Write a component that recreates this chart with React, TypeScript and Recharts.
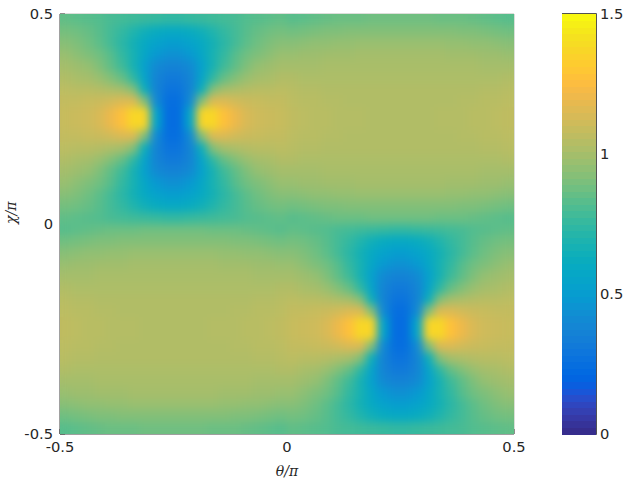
import { ScatterChart, Scatter, XAxis, YAxis, ReferenceArea, ReferenceLine } from "recharts";

// heat values in hundredths, top row (chi = 0.5) first, left column (theta = -0.5) first
const heatRows = [
  [85,84,83,82,80,79,78,77,76,75,75,76,77,78,79,80,82,83,84,85,83,84,85,86,87,87,87,88,88,88,88,88,88,87,87,87,86,85,84,83],
  [89,88,86,83,79,75,70,65,61,59,59,61,65,70,75,79,83,86,88,89,88,89,90,91,91,92,92,92,92,92,92,92,92,92,92,91,91,90,89,88],
  [93,91,88,84,79,73,66,59,54,51,51,54,59,66,73,79,84,88,91,93,93,94,95,95,96,96,97,97,97,97,97,97,97,97,96,96,95,95,94,93],
  [97,94,91,88,83,75,67,57,48,44,44,48,57,67,75,83,88,91,94,97,97,98,98,99,99,99,100,100,100,100,100,100,100,100,99,99,99,98,98,97],
  [100,98,96,91,85,78,67,53,41,37,37,41,53,67,78,85,91,96,98,100,100,100,100,101,101,101,101,101,101,101,101,101,101,101,101,101,101,100,100,100],
  [103,101,100,97,92,86,74,55,38,32,32,38,55,74,86,92,97,100,101,103,103,102,102,102,102,102,102,102,102,102,102,102,102,102,102,102,102,102,102,103],
  [106,105,105,104,102,100,92,64,38,28,28,38,64,92,100,102,104,105,105,106,105,104,104,103,103,103,103,103,103,103,103,103,103,103,103,103,103,104,104,105],
  [108,108,109,110,112,115,115,92,41,25,25,41,92,115,115,112,110,109,108,108,106,105,105,104,104,103,103,103,103,103,103,103,103,103,103,104,104,105,105,106],
  [109,110,111,114,120,127,138,136,55,24,24,55,136,138,127,120,114,111,110,109,107,106,105,105,104,104,104,103,103,103,103,103,103,104,104,104,105,105,106,107],
  [109,110,111,114,120,127,138,136,55,24,24,55,136,138,127,120,114,111,110,109,107,106,105,105,104,104,104,103,103,103,103,103,103,104,104,104,105,105,106,107],
  [108,108,109,110,112,115,115,92,41,25,25,41,92,115,115,112,110,109,108,108,106,105,105,104,104,103,103,103,103,103,103,103,103,103,103,104,104,105,105,106],
  [106,105,105,104,102,100,92,64,38,28,28,38,64,92,100,102,104,105,105,106,105,104,104,103,103,103,103,103,103,103,103,103,103,103,103,103,103,104,104,105],
  [103,101,100,97,92,86,74,55,38,32,32,38,55,74,86,92,97,100,101,103,103,102,102,102,102,102,102,102,102,102,102,102,102,102,102,102,102,102,102,103],
  [100,98,96,91,85,78,67,53,41,37,37,41,53,67,78,85,91,96,98,100,100,100,100,101,101,101,101,101,101,101,101,101,101,101,101,101,101,100,100,100],
  [97,94,91,88,83,75,67,57,48,44,44,48,57,67,75,83,88,91,94,97,97,98,98,99,99,99,100,100,100,100,100,100,100,100,99,99,99,98,98,97],
  [93,91,88,84,79,73,66,59,54,51,51,54,59,66,73,79,84,88,91,93,93,94,95,95,96,96,97,97,97,97,97,97,97,97,96,96,95,95,94,93],
  [89,88,86,83,79,75,70,65,61,59,59,61,65,70,75,79,83,86,88,89,88,89,90,91,91,92,92,92,92,92,92,92,92,92,92,91,91,90,89,88],
  [85,84,83,82,80,79,78,77,76,75,75,76,77,78,79,80,82,83,84,85,83,84,85,86,87,87,87,88,88,88,88,88,88,87,87,87,86,85,84,83],
  [83,84,85,86,87,87,87,88,88,88,88,88,88,87,87,87,86,85,84,83,85,84,83,82,80,79,78,77,76,75,75,76,77,78,79,80,82,83,84,85],
  [88,89,90,91,91,92,92,92,92,92,92,92,92,92,92,91,91,90,89,88,89,88,86,83,79,75,70,65,61,59,59,61,65,70,75,79,83,86,88,89],
  [93,94,95,95,96,96,97,97,97,97,97,97,97,97,96,96,95,95,94,93,93,91,88,84,79,73,66,59,54,51,51,54,59,66,73,79,84,88,91,93],
  [97,98,98,99,99,99,100,100,100,100,100,100,100,100,99,99,99,98,98,97,97,94,91,88,83,75,67,57,48,44,44,48,57,67,75,83,88,91,94,97],
  [100,100,100,101,101,101,101,101,101,101,101,101,101,101,101,101,101,100,100,100,100,98,96,91,85,78,67,53,41,37,37,41,53,67,78,85,91,96,98,100],
  [103,102,102,102,102,102,102,102,102,102,102,102,102,102,102,102,102,102,102,103,103,101,100,97,92,86,74,55,38,32,32,38,55,74,86,92,97,100,101,103],
  [105,104,104,103,103,103,103,103,103,103,103,103,103,103,103,103,103,104,104,105,106,105,105,104,102,100,92,64,38,28,28,38,64,92,100,102,104,105,105,106],
  [106,105,105,104,104,103,103,103,103,103,103,103,103,103,103,104,104,105,105,106,108,108,109,110,112,115,115,92,41,25,25,41,92,115,115,112,110,109,108,108],
  [107,106,105,105,104,104,104,103,103,103,103,103,103,104,104,104,105,105,106,107,109,110,111,114,120,127,138,136,55,24,24,55,136,138,127,120,114,111,110,109],
  [107,106,105,105,104,104,104,103,103,103,103,103,103,104,104,104,105,105,106,107,109,110,111,114,120,127,138,136,55,24,24,55,136,138,127,120,114,111,110,109],
  [106,105,105,104,104,103,103,103,103,103,103,103,103,103,103,104,104,105,105,106,108,108,109,110,112,115,115,92,41,25,25,41,92,115,115,112,110,109,108,108],
  [105,104,104,103,103,103,103,103,103,103,103,103,103,103,103,103,103,104,104,105,106,105,105,104,102,100,92,64,38,28,28,38,64,92,100,102,104,105,105,106],
  [103,102,102,102,102,102,102,102,102,102,102,102,102,102,102,102,102,102,102,103,103,101,100,97,92,86,74,55,38,32,32,38,55,74,86,92,97,100,101,103],
  [100,100,100,101,101,101,101,101,101,101,101,101,101,101,101,101,101,100,100,100,100,98,96,91,85,78,67,53,41,37,37,41,53,67,78,85,91,96,98,100],
  [97,98,98,99,99,99,100,100,100,100,100,100,100,100,99,99,99,98,98,97,97,94,91,88,83,75,67,57,48,44,44,48,57,67,75,83,88,91,94,97],
  [93,94,95,95,96,96,97,97,97,97,97,97,97,97,96,96,95,95,94,93,93,91,88,84,79,73,66,59,54,51,51,54,59,66,73,79,84,88,91,93],
  [88,89,90,91,91,92,92,92,92,92,92,92,92,92,92,91,91,90,89,88,89,88,86,83,79,75,70,65,61,59,59,61,65,70,75,79,83,86,88,89],
  [83,84,85,86,87,87,87,88,88,88,88,88,88,87,87,87,86,85,84,83,85,84,83,82,80,79,78,77,76,75,75,76,77,78,79,80,82,83,84,85],
];

const axisTicks = [-0.5, 0, 0.5];
const colorbarTicks = [0, 0.5, 1, 1.5];

// parula, 64 levels
const parula = [
  [0.2081,0.1663,0.5292],[0.2116,0.1898,0.5777],[0.2123,0.2138,0.627],[0.2081,0.2386,0.6771],
  [0.1959,0.2645,0.7279],[0.1707,0.2919,0.7792],[0.1253,0.3242,0.8303],[0.0591,0.3598,0.8683],
  [0.0117,0.3875,0.882],[0.006,0.4086,0.8828],[0.0165,0.4266,0.8786],[0.0329,0.443,0.872],
  [0.0498,0.4586,0.8641],[0.0629,0.4737,0.8554],[0.0723,0.4887,0.8467],[0.0779,0.504,0.8384],
  [0.0793,0.52,0.8312],[0.0749,0.5375,0.8263],[0.0641,0.557,0.824],[0.0488,0.5772,0.8228],
  [0.0343,0.5966,0.8199],[0.0265,0.6137,0.8135],[0.0239,0.6287,0.8038],[0.0231,0.6418,0.7913],
  [0.0228,0.6535,0.7768],[0.0267,0.6642,0.7607],[0.0384,0.6743,0.7436],[0.059,0.6838,0.7254],
  [0.0843,0.6928,0.7062],[0.1133,0.7015,0.6859],[0.1453,0.7098,0.6646],[0.1801,0.7177,0.6424],
  [0.2178,0.725,0.6193],[0.2586,0.7317,0.5954],[0.3022,0.7376,0.5712],[0.3482,0.7424,0.5473],
  [0.3953,0.7459,0.5244],[0.442,0.7481,0.5033],[0.4871,0.7491,0.484],[0.53,0.7491,0.4661],
  [0.5709,0.7485,0.4494],[0.6099,0.7473,0.4337],[0.6473,0.7456,0.4188],[0.6834,0.7435,0.4044],
  [0.7184,0.7411,0.3905],[0.7525,0.7384,0.3768],[0.7858,0.7356,0.3633],[0.8185,0.7327,0.3498],
  [0.8507,0.7299,0.336],[0.8824,0.7274,0.3217],[0.9139,0.7258,0.3063],[0.945,0.7261,0.2886],
  [0.9739,0.7314,0.2666],[0.9938,0.7455,0.2403],[0.999,0.7653,0.2164],[0.9955,0.7861,0.1967],
  [0.988,0.8066,0.1794],[0.9789,0.8271,0.1633],[0.9697,0.8481,0.1475],[0.9626,0.8705,0.1309],
  [0.9589,0.8949,0.1132],[0.9598,0.9218,0.0948],[0.9661,0.9514,0.0755],[0.9763,0.9831,0.0538],
];

const PLOT_W = 454;
const PLOT_H = 420;
const BAR_W = 34;
const CMAX = 1.5;

function colorOf(v: number) {
  const pos = Math.max(0, Math.min(1, v / CMAX)) * 63;
  const lo = Math.floor(pos);
  const hi = Math.min(63, lo + 1);
  const t = pos - lo;
  const c = parula[lo].map((ch, k) => Math.round((ch + (parula[hi][k] - ch) * t) * 255));
  return `rgb(${c[0]},${c[1]},${c[2]})`;
}

const nCols = heatRows[0].length;
const nRows = heatRows.length;
const cells = heatRows.flatMap((row, j) =>
  row.map((v, i) => ({
    theta: -0.5 + (i + 0.5) / nCols,
    chi: 0.5 - (j + 0.5) / nRows,
    value: v / 100,
  })),
);
const barLevels = parula.map((_, i) => ({ x: 0.5, level: ((i + 0.5) / 64) * CMAX }));

function HeatCell(props: any) {
  const { cx, cy, payload } = props;
  const w = PLOT_W / nCols + 1;
  const h = PLOT_H / nRows + 1;
  return <rect x={cx - w / 2} y={cy - h / 2} width={w} height={h} fill={colorOf(payload.value)} shapeRendering="crispEdges" />;
}

function BarCell(props: any) {
  const { cx, cy, payload } = props;
  const h = PLOT_H / 64 + 1;
  return <rect x={cx - BAR_W / 2} y={cy - h / 2} width={BAR_W} height={h} fill={colorOf(payload.level)} shapeRendering="crispEdges" />;
}

const tickStyle = { fill: "#262626", fontSize: 14.7, fontFamily: "DejaVu Sans" };
const labelStyle = { fill: "#262626", fontSize: 14, fontFamily: "DejaVu Serif", fontStyle: "italic" };

export default function App() {
  return (
    <div style={{ position: "absolute", left: 0, top: 0, width: 626, height: 480 }}>
      <style>{`.heat-map .recharts-scatter { filter: url(#heatSmooth); }`}</style>
      <svg width={0} height={0} style={{ position: "absolute" }}>
        <defs>
          <filter id="heatSmooth" filterUnits="userSpaceOnUse" x={60} y={14} width={PLOT_W} height={PLOT_H} colorInterpolationFilters="sRGB">
            <feGaussianBlur stdDeviation={4} />
            <feComponentTransfer>
              <feFuncA type="linear" slope={50} />
            </feComponentTransfer>
          </filter>
        </defs>
      </svg>
      <div className="heat-map" style={{ position: "absolute", left: 0, top: 0 }}>
        <ScatterChart width={626} height={480} margin={{ top: 14, right: 112, bottom: 0, left: 0 }}>
          <XAxis
            type="number"
            dataKey="theta"
            domain={[-0.5, 0.5]}
            ticks={axisTicks}
            height={46}
            stroke="#404040"
            tickSize={-5}
            tickMargin={13}
            tick={tickStyle}
            interval={0}
            label={{ value: "θ/π", position: "insideBottom", offset: 4, style: labelStyle }}
          />
          <YAxis
            type="number"
            dataKey="chi"
            domain={[-0.5, 0.5]}
            ticks={axisTicks}
            width={60}
            stroke="#404040"
            tickSize={-5}
            tickMargin={12}
            tick={tickStyle}
            interval={0}
            label={{ value: "χ/π", angle: -90, position: "insideLeft", offset: 11, style: labelStyle }}
          />
          <Scatter data={cells} shape={HeatCell} isAnimationActive={false} />
          <ReferenceLine y={0.5} stroke="#b8bcb4" />
          <ReferenceLine x={0.5} stroke="#b8bcb4" />
        </ScatterChart>
      </div>
      <div style={{ position: "absolute", left: 562, top: 0 }}>
        <ScatterChart width={64} height={480} margin={{ top: 14, right: 0, bottom: 46, left: 0 }}>
          <XAxis type="number" dataKey="x" domain={[0, 1]} hide />
          <YAxis
            type="number"
            dataKey="level"
            domain={[0, CMAX]}
            ticks={colorbarTicks}
            orientation="right"
            width={30}
            axisLine={false}
            tickLine={false}
            tickMargin={4}
            tickSize={0}
            tick={tickStyle}
            interval={0}
          />
          <Scatter data={barLevels} shape={BarCell} isAnimationActive={false} />
          <ReferenceArea x1={0} x2={1} y1={0} y2={CMAX} fill="none" stroke="#1a1a1a" strokeWidth={1.5} />
        </ScatterChart>
      </div>
    </div>
  );
}
